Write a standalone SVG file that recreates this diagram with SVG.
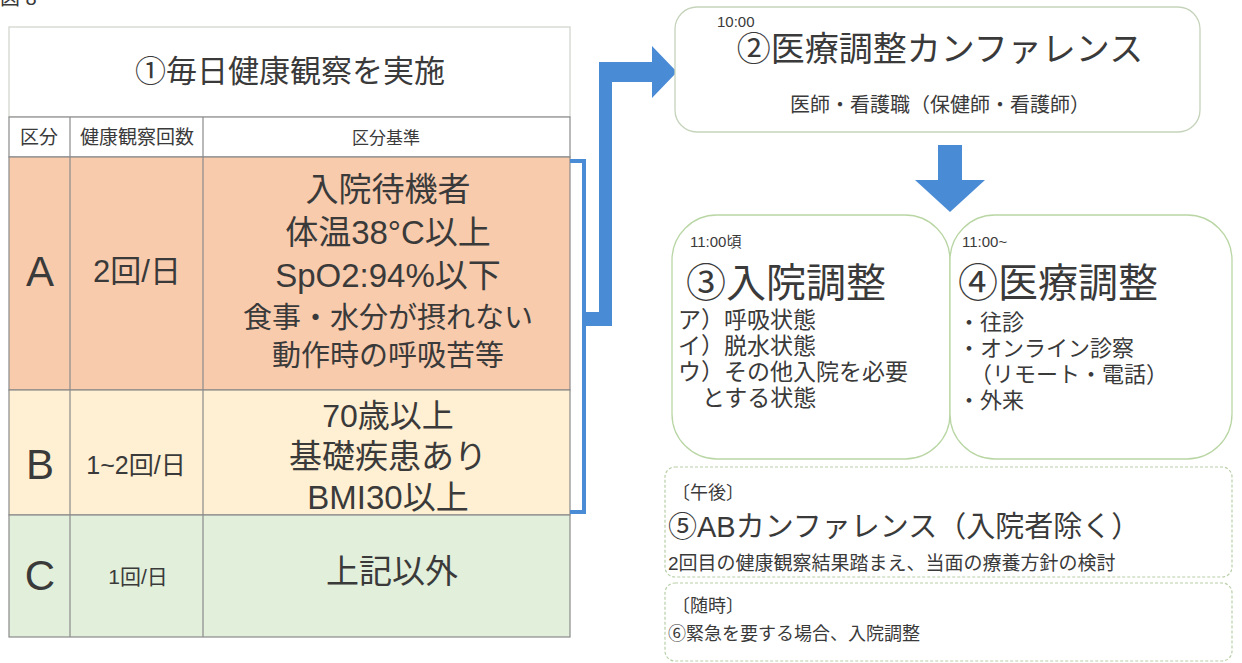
<svg xmlns="http://www.w3.org/2000/svg" width="1242" height="663" viewBox="0 0 1242 663">
<style>
text{font-family:"Liberation Sans","Noto Sans CJK JP",sans-serif;fill:#3a3a3a}
.c{text-anchor:middle}
.cell{stroke:#8a8a8a;stroke-width:1.2}
.box{fill:#fff;stroke:#c5d3bb;stroke-width:1.3}
.rbox{fill:#fff;stroke:#b9d6a4;stroke-width:1.3}
.dash{fill:#fff;stroke:#b8cfa8;stroke-width:1.2;stroke-dasharray:3 2}
.blue{fill:#4a8bd6}
</style>
<rect width="1242" height="663" fill="#fff"/>
<text x="0" y="5" font-size="20">図 8</text>

<g id="table">
<rect x="9" y="27" width="561" height="90" fill="#fff" stroke="#cfd3cb" stroke-width="1.2"/>
<text class="c" x="290" y="82" font-size="31">①毎日健康観察を実施</text>
<rect class="cell" x="9" y="117" width="561" height="40" fill="#fff"/>
<text class="c" x="39" y="144" font-size="19">区分</text>
<text class="c" x="137" y="144" font-size="19">健康観察回数</text>
<text class="c" x="386" y="144" font-size="17">区分基準</text>
<rect class="cell" x="9" y="157" width="561" height="233" fill="#f8cbad"/>
<rect class="cell" x="9" y="390" width="561" height="125" fill="#fff0d3"/>
<rect class="cell" x="9" y="515" width="561" height="122" fill="#e2efda"/>
<line class="cell" x1="70" y1="117" x2="70" y2="637"/>
<line class="cell" x1="203" y1="117" x2="203" y2="637"/>
</g>

<g id="rowA">
<text class="c" x="40" y="286" font-size="42">A</text>
<text class="c" x="137" y="282" font-size="31">2回/日</text>
<text class="c" font-size="33"><tspan x="388" y="201">入院待機者</tspan><tspan x="388" y="244">体温38°C以上</tspan><tspan x="388" y="287">SpO2:94%以下</tspan><tspan x="388" y="328" font-size="29">食事・水分が摂れない</tspan><tspan x="388" y="366" font-size="29">動作時の呼吸苦等</tspan></text>
</g>
<g id="rowB">
<text class="c" x="40" y="479" font-size="42">B</text>
<text class="c" x="136" y="474" font-size="25">1~2回/日</text>
<text class="c" font-size="33"><tspan x="388" y="427" font-size="32">70歳以上</tspan><tspan x="388" y="468">基礎疾患あり</tspan><tspan x="388" y="509" font-size="33">BMI30以上</tspan></text>
</g>
<g id="rowC">
<text class="c" x="40" y="590" font-size="42">C</text>
<text class="c" x="138" y="584" font-size="21">1回/日</text>
<text class="c" x="392" y="583" font-size="33">上記以外</text>
</g>

<g id="connectors">
<polyline points="570,161 584,161 584,512 570,512" fill="none" stroke="#4a8bd6" stroke-width="4"/>
<path class="blue" d="M584,316 L612,316 L612,82 L652,82 L652,98 L677,72 L652,46 L652,62 L599,62 L599,316 Z"/>
<path class="blue" d="M584,312 H612 V326 H584 Z"/>
<path class="blue" d="M938,145 H962 V180 H985 L950,212 L915,180 H938 Z"/>
</g>

<g id="node2">
<rect class="box" x="675" y="7" width="525" height="125" rx="22"/>
<text font-size="15"><tspan x="717" y="27">10:00</tspan><tspan class="c" x="940" y="61" font-size="34">②医療調整カンファレンス</tspan><tspan class="c" x="940" y="112" font-size="20">医師・看護職（保健師・看護師）</tspan></text>
</g>

<g id="node3">
<rect class="rbox" x="672" y="215" width="278" height="244" rx="45"/>
<text font-size="23"><tspan x="690" y="247" font-size="15">11:00頃</tspan><tspan x="686" y="297" font-size="40">③入院調整</tspan><tspan x="678" y="328">ア）呼吸状態</tspan><tspan x="678" y="354">イ）脱水状態</tspan><tspan x="678" y="380">ウ）その他入院を必要</tspan><tspan x="702" y="406">とする状態</tspan></text>
</g>

<g id="node4">
<rect class="rbox" x="950" y="215" width="282" height="244" rx="45"/>
<text font-size="22"><tspan x="962" y="247" font-size="15">11:00~</tspan><tspan x="958" y="297" font-size="40">④医療調整</tspan><tspan x="958" y="330">・往診</tspan><tspan x="958" y="356">・オンライン診察</tspan><tspan x="970" y="382">（リモート・電話）</tspan><tspan x="958" y="408">・外来</tspan></text>
</g>

<g id="node5">
<rect class="dash" x="665" y="467" width="567" height="110" rx="10"/>
<text font-size="18"><tspan x="672" y="499">〔午後〕</tspan><tspan x="668" y="537" font-size="29">⑤ABカンファレンス（入院者除く）</tspan><tspan x="668" y="570" font-size="19">2回目の健康観察結果踏まえ、当面の療養方針の検討</tspan></text>
</g>

<g id="node6">
<rect class="dash" x="665" y="583" width="567" height="78" rx="10"/>
<text font-size="18"><tspan x="672" y="612">〔随時〕</tspan><tspan x="668" y="640">⑥緊急を要する場合、入院調整</tspan></text>
</g>
</svg>
